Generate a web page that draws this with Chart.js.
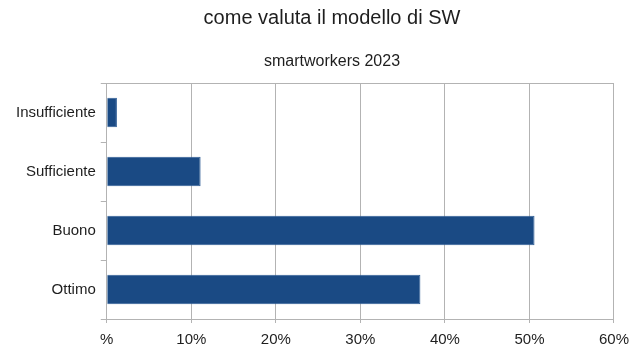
<!DOCTYPE html>
<html>
<head>
<meta charset="utf-8">
<script src="https://cdn.jsdelivr.net/npm/chart.js@4"></script>
<style>
  html, body { margin: 0; padding: 0; background: #ffffff; }
  #wrap { width: 637px; height: 349px; position: relative; }
</style>
</head>
<body>
<div id="wrap"><canvas id="c"></canvas></div>
<script>
// Survey results: how smart workers rate the remote-work model
const chartTitle = 'come valuta il modello di SW';
const chartSubtitle = 'smartworkers 2023';
const categories = ['Insufficiente', 'Sufficiente', 'Buono', 'Ottimo'];
const shares = [1.2, 11.1, 50.6, 37.1];          // percent of respondents
const xTicks = [0, 10, 20, 30, 40, 50, 60];
const xTickLabels = ['%', '10%', '20%', '30%', '40%', '50%', '60%'];

const FONT = '"Liberation Sans", Arial, sans-serif';
const TEXT = '#1e1e1e';
const GRID = '#b3b3b3';

// Title and subtitle, drawn above the plot area
const headings = {
  id: 'headings',
  afterDraw(chart) {
    const ctx = chart.ctx;
    ctx.save();
    ctx.fillStyle = TEXT;
    ctx.textAlign = 'center';
    ctx.textBaseline = 'middle';
    const cx = 332;
    ctx.font = '20px ' + FONT;
    ctx.fillText(chartTitle, cx, 18);
    ctx.font = '16px ' + FONT;
    ctx.fillText(chartSubtitle, cx, 62);
    ctx.restore();
  }
};

new Chart(document.getElementById('c'), {
  type: 'bar',
  data: {
    labels: categories,
    datasets: [{
      data: shares,
      backgroundColor: '#1a4a84',
      borderColor: '#2f5d95',
      borderWidth: 1,
      barPercentage: 0.5,
      categoryPercentage: 1.0
    }]
  },
  options: {
    indexAxis: 'y',
    responsive: true,
    maintainAspectRatio: false,
    animation: false,
    layout: { padding: { top: 83, left: 11, right: 23, bottom: 0 } },
    plugins: {
      legend: { display: false },
      title: { display: false },
      tooltip: { enabled: false }
    },
    scales: {
      x: {
        min: 0,
        max: 60,
        afterBuildTicks(axis) { axis.ticks = xTicks.map(v => ({ value: v })); },
        afterFit(axis) { axis.height = 30; },
        ticks: {
          callback: (v) => xTickLabels[xTicks.indexOf(v)],
          color: TEXT,
          font: { family: FONT, size: 15 },
          padding: 8,
          maxRotation: 0
        },
        grid: { color: GRID, lineWidth: 1, tickLength: 4, tickColor: GRID },
        border: { color: GRID, width: 1 }
      },
      y: {
        ticks: {
          color: TEXT,
          font: { family: FONT, size: 15 },
          padding: 5
        },
        grid: {
          offset: true,
          color: (c) => (c.index === 0 ? GRID : 'rgba(0,0,0,0)'),
          tickColor: GRID,
          tickLength: 6,
          lineWidth: 1
        },
        border: { color: GRID, width: 1 }
      }
    }
  },
  plugins: [headings]
});
</script>
</body>
</html>
